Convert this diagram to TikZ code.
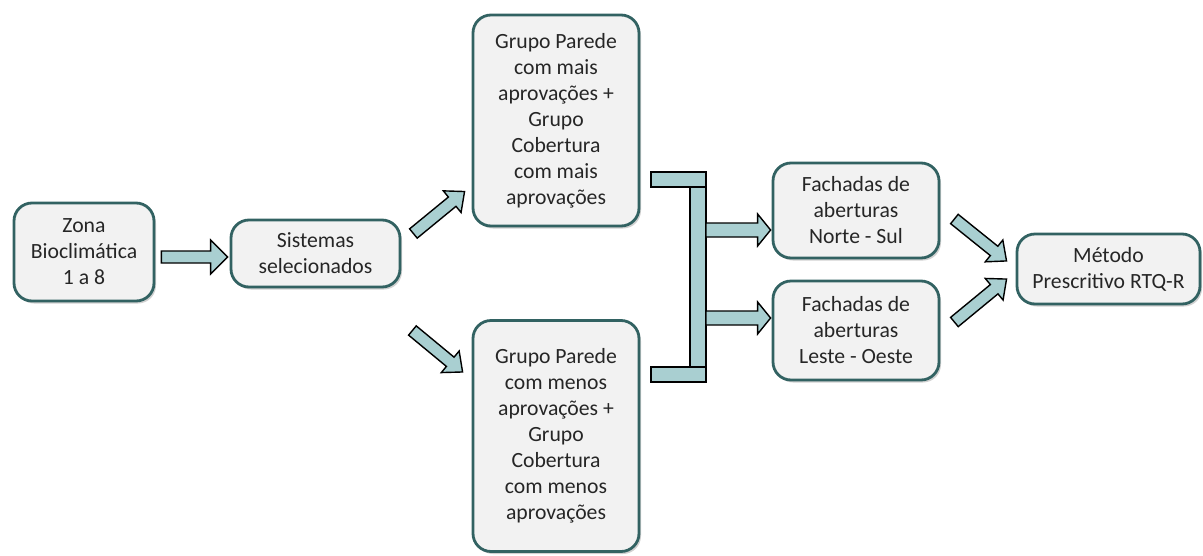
\documentclass[tikz,border=0pt]{standalone}
\usepackage{fontspec}
\setmainfont{Carlito}
\usetikzlibrary{calc,shadows}
\definecolor{boxfill}{RGB}{242,242,242}
\definecolor{boxline}{RGB}{50,98,98}
\definecolor{arrfill}{RGB}{169,207,209}
\definecolor{txt}{RGB}{38,38,38}
\tikzset{
  box/.style={draw=boxline, line width=2.8pt, fill=boxfill, rounded corners=18pt,
    align=center, inner sep=2pt, text=txt, font=\fontsize{21.7}{26}\selectfont,
    drop shadow={shadow xshift=2pt, shadow yshift=-2.5pt, opacity=0.3, fill=black!60}},
  barrow/.style={draw=black, line width=1.4pt, fill=arrfill, line join=miter},
  barpart/.style={draw=black, line width=1.4pt, fill=arrfill}
}
\newcommand\blockarrow[5]{%
  \draw[barrow] let \p1=(#1), \p2=(#2),
    \n1={atan2(\y2-\y1,\x2-\x1)}, \n2={veclen(\x2-\x1,\y2-\y1)} in
    [shift={(\p1)}, rotate=\n1]
    (0,-#3) -- (\n2-#5,-#3) -- (\n2-#5,-#4) -- (\n2,0) -- (\n2-#5,#4)
    -- (\n2-#5,#3) -- (0,#3) -- cycle;}
\begin{document}
\begin{tikzpicture}[x=1pt,y=-1pt]
\useasboundingbox (0,0) rectangle (1203,555);

\node[box, minimum width=140pt, minimum height=98pt] (zona) at (84,252) {Zona\\Bioclimática\\1 a 8};
\node[box, minimum width=169pt, minimum height=67pt] (sis) at (315.5,253.5) {Sistemas\\selecionados};
\node[box, minimum width=166pt, minimum height=211pt] (gtop) at (556,120.5)
  {Grupo Parede\\com mais\\aprovações +\\Grupo\\Cobertura\\com mais\\aprovações};
\node[box, minimum width=166pt, minimum height=231pt] (gbot) at (556,436)
  {Grupo Parede\\com menos\\aprovações +\\Grupo\\Cobertura\\com menos\\aprovações};
\node[box, minimum width=166pt, minimum height=95pt] (fns) at (856,210.5)
  {Fachadas de\\aberturas\\Norte - Sul};
\node[box, minimum width=166pt, minimum height=99pt] (flo) at (856,330.5)
  {Fachadas de\\aberturas\\Leste - Oeste};
\node[box, minimum width=183pt, minimum height=70pt] (met) at (1108.5,269)
  {Método\\Prescritivo RTQ-R};

% bracket
\draw[barpart] (690,187) rectangle (706,367);
\draw[barpart] (651,172) rectangle (706,187);
\draw[barpart] (651,367) rectangle (706,382);
\coordinate (brA) at (706,230);
\coordinate (brB) at (706,318);

% arrow end points
\coordinate (a1) at ($(zona.east)+(6,5)$);
\coordinate (b1) at ($(sis.west)+(-2,3.5)$);
\coordinate (a2) at ($(sis.east)+(12,-20)$);
\coordinate (b2) at ($(gtop.west)+(-7,71)$);
\coordinate (a3) at ($(sis.east)+(11,77)$);
\coordinate (b3) at ($(gbot.west)+(-9,-64)$);
\coordinate (b4) at ($(fns.west)+(-1,19.5)$);
\coordinate (b5) at ($(flo.west)+(-1,-12.5)$);
\coordinate (a6) at ($(fns.east)+(14,8.5)$);
\coordinate (b6) at ($(met.west)+(-9,-8)$);
\coordinate (a7) at ($(flo.east)+(14,-8.5)$);
\coordinate (b7) at ($(met.west)+(-9,10)$);

\blockarrow{a1}{b1}{6}{17}{17}
\blockarrow{a2}{b2}{6}{14}{16}
\blockarrow{a3}{b3}{6}{14}{16}
\blockarrow{brA}{b4}{7}{16}{13}
\blockarrow{brB}{b5}{7}{16}{13}
\blockarrow{a6}{b6}{6}{14}{16}
\blockarrow{a7}{b7}{6}{14}{16}
\end{tikzpicture}
\end{document}
